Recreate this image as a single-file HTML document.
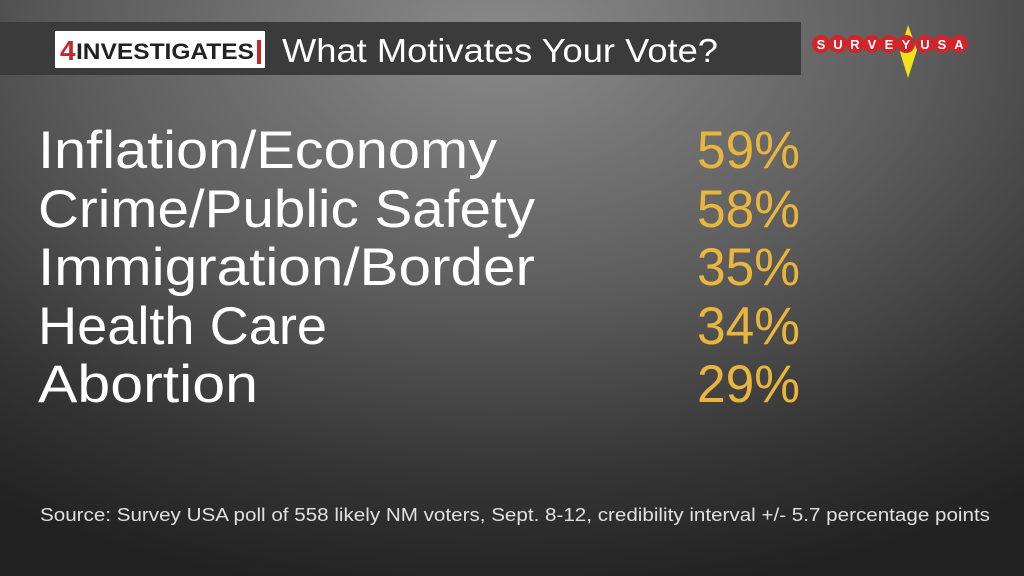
<!DOCTYPE html>
<html><head><meta charset="utf-8"><style>
html,body{margin:0;padding:0}
body{width:1024px;height:576px;overflow:hidden;background:radial-gradient(ellipse 900px 560px at 500px 40px,#8a8a8a 0%,#5e5e5e 45%,#333 80%,#222 100%);font-family:"Liberation Sans",sans-serif}
svg{position:absolute;left:0;top:0}
</style></head><body>
<svg width="1024" height="576" xmlns="http://www.w3.org/2000/svg">
<rect x="0" y="22" width="801" height="53" fill="#3b3b3b"/>
<rect x="55" y="31" width="210" height="37" fill="#fff"/>
<text x="60" y="60" font-size="28" font-weight="bold" fill="#c0282d" font-family="Liberation Sans">4</text>
<text x="76" y="59" font-size="22" font-weight="bold" fill="#222" textLength="178" lengthAdjust="spacingAndGlyphs">INVESTIGATES</text>
<rect x="257" y="40" width="4" height="24" fill="#c0282d"/>
<text x="282" y="62" font-size="33" fill="#fff" textLength="436" lengthAdjust="spacingAndGlyphs">What Motivates Your Vote?</text>
<polygon points="908,25 917,50 908,78 900,52" fill="#f2e21c"/>
<g font-size="13" font-weight="bold" fill="#fff" text-anchor="middle">
<circle cx="821" cy="44" r="9" fill="#d3242a"/><text x="821" y="49">S</text>
<circle cx="838" cy="44" r="9" fill="#d3242a"/><text x="838" y="49">U</text>
<circle cx="855" cy="44" r="9" fill="#d3242a"/><text x="855" y="49">R</text>
<circle cx="872" cy="44" r="9" fill="#d3242a"/><text x="872" y="49">V</text>
<circle cx="889" cy="44" r="9" fill="#d3242a"/><text x="889" y="49">E</text>
<circle cx="906" cy="44" r="9" fill="#d3242a"/><text x="906" y="49">Y</text>
<circle cx="925" cy="44" r="9" fill="#d3242a"/><text x="925" y="49">U</text>
<circle cx="942" cy="44" r="9" fill="#d3242a"/><text x="942" y="49">S</text>
<circle cx="959" cy="44" r="9" fill="#d3242a"/><text x="959" y="49">A</text>
</g>
<g font-size="53" fill="#fff">
<text x="38" y="168" textLength="459" lengthAdjust="spacingAndGlyphs">Inflation/Economy</text>
<text x="38" y="227" textLength="497" lengthAdjust="spacingAndGlyphs">Crime/Public Safety</text>
<text x="38" y="285" textLength="497" lengthAdjust="spacingAndGlyphs">Immigration/Border</text>
<text x="38" y="344" textLength="289" lengthAdjust="spacingAndGlyphs">Health Care</text>
<text x="38" y="402" textLength="220" lengthAdjust="spacingAndGlyphs">Abortion</text>
</g>
<g font-size="53" fill="#e9b53c">
<text x="697" y="168" textLength="103" lengthAdjust="spacingAndGlyphs">59%</text>
<text x="697" y="227" textLength="103" lengthAdjust="spacingAndGlyphs">58%</text>
<text x="697" y="285" textLength="103" lengthAdjust="spacingAndGlyphs">35%</text>
<text x="697" y="344" textLength="103" lengthAdjust="spacingAndGlyphs">34%</text>
<text x="697" y="402" textLength="103" lengthAdjust="spacingAndGlyphs">29%</text>
</g>
<text x="40" y="521" font-size="18" fill="#e0e0e0" textLength="950" lengthAdjust="spacingAndGlyphs">Source: Survey USA poll of 558 likely NM voters, Sept. 8-12, credibility interval +/- 5.7 percentage points</text>
</svg>
</body></html>
